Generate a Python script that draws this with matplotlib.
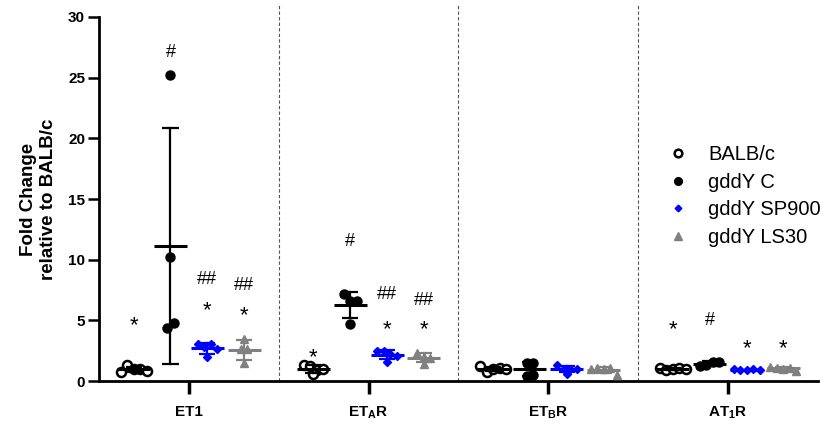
import numpy as np
import matplotlib
matplotlib.use('Agg')
from matplotlib import pyplot as plt

plt.rcParams['font.family'] = ['Liberation Sans', 'DejaVu Sans']
plt.rcParams['mathtext.fontset'] = 'custom'
plt.rcParams['mathtext.rm'] = 'Liberation Sans'
plt.rcParams['mathtext.bf'] = 'Liberation Sans:bold'

#Data (fold change relative to BALB/c)
genes = ['ET1', r'ET$_\mathregular{A}$R', r'ET$_\mathregular{B}$R', r'AT$_\mathregular{1}$R']
series = ['BALB/c', 'gddY C', 'gddY SP900', 'gddY LS30']

balb = [[0.75, 1.3, 1.0, 1.0, 0.85],
        [1.3, 1.2, 0.9, 0.55, 1.0],
        [1.25, 0.75, 1.0, 1.05, 0.95],
        [1.1, 0.9, 1.0, 1.05, 0.95]]
gddy_c = [[25.2, 10.2, 4.4, 4.8],
          [7.2, 6.6, 6.6, 4.7],
          [1.5, 1.45, 0.45, 0.5],
          [1.2, 1.35, 1.55, 1.6]]
sp900 = [[3.05, 2.8, 3.05, 2.0, 2.6],
         [2.45, 2.5, 2.2, 2.1, 1.6],
         [1.35, 1.0, 1.0, 0.95, 0.6],
         [0.95, 0.9, 0.9, 0.95, 0.9]]
ls30 = [[2.6, 3.5, 2.6, 1.5],
        [1.4, 2.3, 2.0, 1.9],
        [1.0, 1.05, 1.0, 1.05, 0.5],
        [1.15, 1.1, 1.0, 1.1, 0.85]]

# significance marks: (gene index, series index, text, y value)
marks = [(0, 0, '*', 4.6), (0, 1, '#', 27.1), (0, 2, '##', 8.4), (0, 2, '*', 5.8),
         (0, 3, '##', 7.9), (0, 3, '*', 5.4),
         (1, 0, '*', 1.9), (1, 1, '#', 11.5), (1, 2, '##', 7.1), (1, 2, '*', 4.2),
         (1, 3, '##', 6.6), (1, 3, '*', 4.2),
         (3, 0, '*', 4.2), (3, 1, '#', 5.0), (3, 2, '*', 2.7), (3, 3, '*', 2.7)]

all_data = [balb, gddy_c, sp900, ls30]
styles = [dict(marker='o', mfc='white', mec='black', ms=6.5, mew=1.8, color='black'),
          dict(marker='o', mfc='black', mec='black', ms=6.5, mew=1, color='black'),
          dict(marker='D', mfc='#0000FF', mec='#0000FF', ms=4, mew=1, color='#0000FF'),
          dict(marker='^', mfc='#808080', mec='#808080', ms=6, mew=1, color='#808080')]

fig = plt.figure(figsize=(8.23, 4.25), dpi=100)
ax = fig.add_axes([0.1203, 0.1035, 0.8736, 0.8565])

px_x = 180.0   # pixels per group unit
px_y = 12.1    # pixels per y unit
spacing = 0.205
diam = 8.0
step = 6.5


def swarm(vals):
  # group points that sit within one marker height, spread each group symmetrically
  offs = np.zeros(len(vals))
  order = sorted(range(len(vals)), key=lambda i: -vals[i])
  bins = []
  for i in order:
    if bins and (vals[bins[-1][0]] - vals[i]) * px_y < diam:
      bins[-1].append(i)
    else:
      bins.append([i])
  for b in bins:
    b = sorted(b)
    n = len(b)
    for j, i in enumerate(b):
      offs[i] = (j - (n - 1) / 2.0) * step / px_x
  return offs


for g in range(len(genes)):
  for s in range(len(series)):
    vals = np.array(all_data[s][g])
    xc = g + (s - 1.5) * spacing
    xs = xc + swarm(vals)
    st = styles[s]
    ax.plot(xs, vals, linestyle='none', marker=st['marker'], mfc=st['mfc'],
            mec=st['mec'], ms=st['ms'], mew=st['mew'], zorder=3, clip_on=False)
    m = vals.mean()
    sd = vals.std(ddof=1)
    c = st['color']
    ax.plot([xc - 0.092, xc + 0.092], [m, m], color=c, lw=2.2, zorder=4, solid_capstyle='butt')
    ax.plot([xc, xc], [m - sd, m + sd], color=c, lw=1.6, zorder=4)
    ax.plot([xc - 0.045, xc + 0.045], [m + sd, m + sd], color=c, lw=1.6, zorder=4, solid_capstyle='butt')
    ax.plot([xc - 0.045, xc + 0.045], [m - sd, m - sd], color=c, lw=1.6, zorder=4, solid_capstyle='butt')

for (g, s, txt, yv) in marks:
  xc = g + (s - 1.5) * spacing
  ax.text(xc, yv, txt, ha='center', va='center', fontsize=16 if txt == '*' else 13)

#Group separators
for xv in [0.5, 1.5, 2.5]:
  ax.axvline(xv, ymin=0, ymax=1.035, color='#555555', lw=0.8, ls=(0, (3, 2)), clip_on=False, zorder=1)

ax.set_xlim(-0.5, 3.5)
ax.set_ylim(0, 30)
ax.set_yticks(np.arange(0, 31, 5))
ax.set_xticks(range(len(genes)))
ax.set_xticklabels(genes, fontsize=11, fontweight='bold')
for lab in ax.get_yticklabels():
  lab.set_fontsize(11)
  lab.set_fontweight('bold')
ax.tick_params(axis='y', length=8, width=1.8, pad=2)
ax.tick_params(axis='x', length=9, width=2.5, pad=8)
ax.spines['top'].set_visible(False)
ax.spines['right'].set_visible(False)
ax.spines['left'].set_linewidth(2)
ax.spines['bottom'].set_linewidth(2)
ax.set_ylabel('Fold Change\nrelative to BALB/c', fontsize=13.5, fontweight='bold', labelpad=8)

handles = []
for s in range(len(series)):
  st = styles[s]
  h, = ax.plot([], [], linestyle='none', marker=st['marker'], mfc=st['mfc'], mec=st['mec'],
               ms=st['ms'] * 0.85, mew=st['mew'])
  handles.append(h)
ax.legend(handles, series, loc='upper left', bbox_to_anchor=(0.791, 0.647), frameon=False,
          fontsize=14.5, handlelength=1.0, handletextpad=1.0, labelspacing=0.42,
          borderaxespad=0, borderpad=0)

plt.savefig('out.png', dpi=100)
